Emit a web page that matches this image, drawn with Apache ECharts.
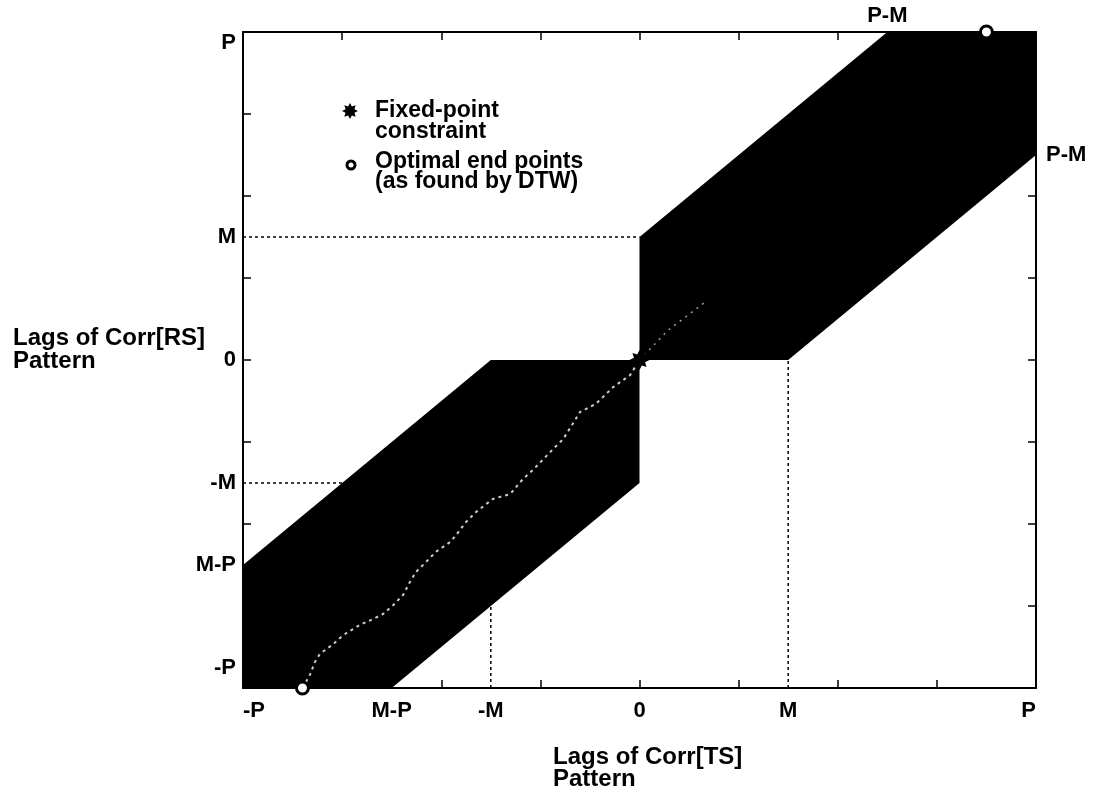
<!DOCTYPE html>
<html>
<head>
<meta charset="utf-8">
<title>Lag search region</title>
<script src="https://cdn.jsdelivr.net/npm/echarts@6/dist/echarts.min.js"></script>
<style>
  html, body { margin: 0; padding: 0; background: #fff; }
  #chart { width: 1097px; height: 790px; }
</style>
</head>
<body>
<div id="chart"></div>
<script>
// Lag axes run from -P to P (P = 8 units, M = 3 units).
const axisMin = -8;
const axisMax = 8;
const tickValues = [-8, -6, -4, -2, 0, 2, 4, 6, 8];

// Labelled lags on the main axes and on the opposite edges
const labelValues = [-8, -5, -3, 0, 3, 8];
const labelNames = ['-P', 'M-P', '-M', '0', 'M', 'P'];
const edgeLabelValues = [5];
const edgeLabelNames = ['P-M'];

// Allowed search band, lower and upper parts (vertices in lag units)
const lowerBand = [[-8, -8], [-8, -5], [-3, 0], [0, 0], [0, -3], [-5, -8]];
const upperBand = [[0, 0], [0, 3], [5, 8], [8, 8], [8, 5], [3, 0]];

// Dotted guides from the M / -M lags
const guideA = [[-8, 3], [0, 3]];
const guideB = [[-8, -3], [-3, -3]];
const guideC = [[-3, -8], [-3, -3]];
const guideD = [[3, -8], [3, 0]];

// Warping path found by DTW
const pathLower = [
  [-6.8, -8], [-6.65, -7.68], [-6.55, -7.37], [-6.45, -7.17], [-6.18, -6.93],
  [-5.98, -6.71], [-5.64, -6.46], [-5.38, -6.32], [-5.18, -6.2], [-4.97, -5.98],
  [-4.77, -5.73], [-4.63, -5.41], [-4.51, -5.17], [-4.31, -4.93], [-4.11, -4.68],
  [-3.82, -4.44], [-3.7, -4.27], [-3.5, -3.95], [-3.3, -3.71], [-2.96, -3.39],
  [-2.61, -3.27], [-2.35, -2.9], [-2.15, -2.68], [-1.74, -2.17], [-1.54, -1.93],
  [-1.2, -1.27], [-0.88, -1.07], [-0.53, -0.66], [-0.19, -0.37], [0, 0]
];
const pathUpper = [[0, 0], [0.58, 0.73], [1.32, 1.41]];

// Fixed point and the optimal end points
const fixedPoint = [[0, 0]];
const endPoints = [[-6.8, -8], [7, 8]];

const FONT = '"Liberation Sans", Arial, Helvetica, sans-serif';

// Eight-pointed asterisk outline on a 20x20 box
const starOutline = [
  [20, 10], [15.54, 12.3], [17.07, 17.07], [12.3, 15.54], [10, 20], [7.7, 15.54],
  [2.93, 17.07], [4.46, 12.3], [0, 10], [4.46, 7.7], [2.93, 2.93], [7.7, 4.46],
  [10, 0], [12.3, 4.46], [17.07, 2.93], [15.54, 7.7]
];
const STAR = 'path://M' + starOutline.map(function (p) { return p[0] + ' ' + p[1]; }).join(' L') + ' Z';

function starAt(cx, cy, size) {
  const s = size / 20;
  return starOutline.map(function (p) { return [cx + (p[0] - 10) * s, cy + (p[1] - 10) * s]; });
}

// Tick text for a value; the bottom-most label is lifted slightly off the corner
function nameFor(values, names) {
  return function (v) {
    const i = values.indexOf(v);
    if (i < 0) return '';
    return v === axisMin ? '{lo|' + names[i] + '}' : names[i];
  };
}

function bandSeries(name, band) {
  return {
    name: name,
    type: 'custom',
    data: band,
    z: 2,
    silent: true,
    encode: { x: 0, y: 1 },
    renderItem: function (params, api) {
      if (params.dataIndex !== 0) return;
      const pts = band.map(function (p) { return api.coord(p); });
      return { type: 'polygon', shape: { points: pts }, style: { fill: '#000' } };
    }
  };
}

function guideSeries(data) {
  return {
    type: 'line',
    data: data,
    symbol: 'none',
    silent: true,
    z: 1,
    lineStyle: { color: '#000', width: 1.5, type: [3, 3] }
  };
}

const labelStyle = { color: '#000', fontFamily: FONT, fontWeight: 'bold', fontSize: 22 };
const axisLineStyle = { show: true, onZero: false, lineStyle: { color: '#000', width: 2 } };
const tickStyle = { show: true, inside: true, length: 8, customValues: tickValues, lineStyle: { color: '#000', width: 1.5 } };
const loRich = { lo: { color: '#000', fontFamily: FONT, fontWeight: 'bold', fontSize: 22, padding: [0, 0, 0, 0] } };
const loRichY = { lo: { color: '#000', fontFamily: FONT, fontWeight: 'bold', fontSize: 22, padding: [0, 0, 9, 0] } };

const chart = echarts.init(document.getElementById('chart'), null, { renderer: 'canvas' });

chart.setOption({
  backgroundColor: '#fff',
  animation: false,
  grid: { left: 243, right: 61, top: 32, bottom: 102 },
  xAxis: [
    {
      type: 'value', position: 'bottom', min: axisMin, max: axisMax, interval: 2,
      axisLine: axisLineStyle, axisTick: tickStyle, splitLine: { show: false },
      axisLabel: Object.assign({
        customValues: labelValues, formatter: nameFor(labelValues, labelNames),
        margin: 12, alignMinLabel: 'left', alignMaxLabel: 'right', rich: loRich
      }, labelStyle)
    },
    {
      type: 'value', position: 'top', min: axisMin, max: axisMax, interval: 2,
      axisLine: axisLineStyle, axisTick: tickStyle, splitLine: { show: false },
      axisLabel: Object.assign({
        customValues: edgeLabelValues, formatter: nameFor(edgeLabelValues, edgeLabelNames),
        margin: 5
      }, labelStyle)
    }
  ],
  yAxis: [
    {
      type: 'value', position: 'left', min: axisMin, max: axisMax, interval: 2,
      axisLine: axisLineStyle, axisTick: tickStyle, splitLine: { show: false },
      axisLabel: Object.assign({
        customValues: labelValues, formatter: nameFor(labelValues, labelNames),
        margin: 7, verticalAlignMinLabel: 'bottom', verticalAlignMaxLabel: 'top', rich: loRichY
      }, labelStyle)
    },
    {
      type: 'value', position: 'right', min: axisMin, max: axisMax, interval: 2,
      axisLine: axisLineStyle, axisTick: tickStyle, splitLine: { show: false },
      axisLabel: Object.assign({
        customValues: edgeLabelValues, formatter: nameFor(edgeLabelValues, edgeLabelNames),
        margin: 10
      }, labelStyle)
    }
  ],
  graphic: [
    // Axis titles
    {
      type: 'text', left: 13, top: 326,
      style: { text: 'Lags of Corr[RS]\nPattern', font: 'bold 24px ' + FONT, fill: '#000', lineHeight: 23 }
    },
    {
      type: 'text', left: 553, top: 745,
      style: { text: 'Lags of Corr[TS]\nPattern', font: 'bold 24px ' + FONT, fill: '#000', lineHeight: 22 }
    },
    // Key
    {
      type: 'polygon', shape: { points: starAt(350, 111, 16) },
      style: { fill: '#000' }
    },
    {
      type: 'circle', shape: { cx: 351, cy: 165, r: 4 },
      style: { fill: '#fff', stroke: '#000', lineWidth: 3 }
    },
    {
      type: 'text', left: 375, top: 99,
      style: { text: 'Fixed-point\nconstraint', font: 'bold 23px ' + FONT, fill: '#000', lineHeight: 21 }
    },
    {
      type: 'text', left: 375, top: 150,
      style: { text: 'Optimal end points\n(as found by DTW)', font: 'bold 23px ' + FONT, fill: '#000', lineHeight: 20 }
    }
  ],
  series: [
    guideSeries(guideA),
    guideSeries(guideB),
    guideSeries(guideC),
    guideSeries(guideD),
    bandSeries('lower band', lowerBand),
    bandSeries('upper band', upperBand),
    {
      name: 'DTW path', type: 'line', data: pathLower, symbol: 'none', z: 3, silent: true,
      lineStyle: { color: 'rgba(255,255,255,0.8)', width: 2, type: [3, 4] }
    },
    {
      name: 'DTW path upper', type: 'line', data: pathUpper, symbol: 'none', z: 3, silent: true,
      lineStyle: { color: 'rgba(255,255,255,0.6)', width: 1.5, type: [2, 5] }
    },
    {
      name: 'Fixed-point constraint', type: 'scatter', data: fixedPoint, z: 5,
      symbol: STAR, symbolSize: 20, clip: false, silent: true,
      itemStyle: { color: '#000', opacity: 1 }
    },
    {
      name: 'Optimal end points', type: 'scatter', data: endPoints, z: 5,
      symbol: 'circle', symbolSize: 12, clip: false, silent: true,
      itemStyle: { color: '#fff', borderColor: '#000', borderWidth: 3, opacity: 1 }
    }
  ]
});
</script>
</body>
</html>
